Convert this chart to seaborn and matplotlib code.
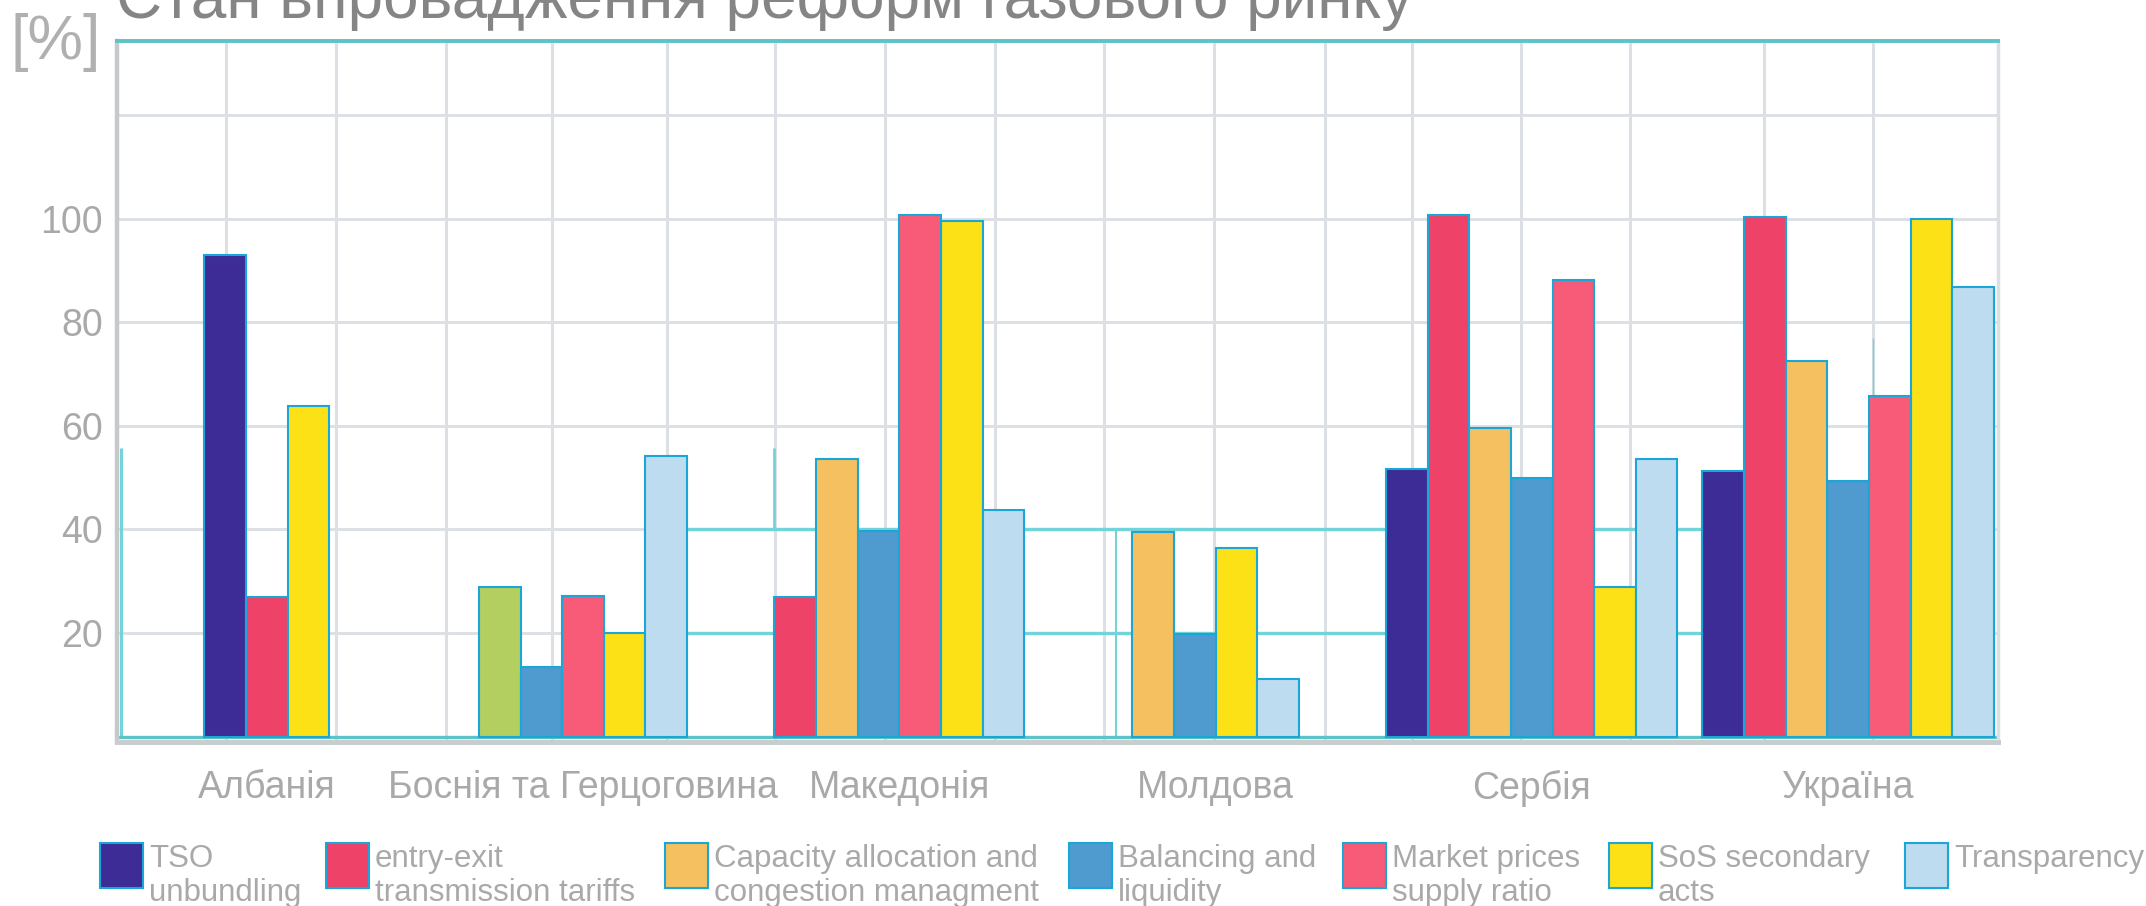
import pandas as pd
import matplotlib.pyplot as plt
import seaborn as sns
from matplotlib.patches import Rectangle

# Країни (групи стовпців)
countries = ["Албанія", "Боснія та Герцоговина", "Македонія", "Молдова", "Сербія", "Україна"]

# Стан реформ по напрямках, % (None = стовпця немає)
tso_unbundling = [92.9, None, None, None, 51.7, 51.2]
entry_exit = [26.9, None, 26.9, None, 100.8, 100.3]
capacity = [None, 28.8, 53.6, 39.6, 59.6, 72.6]
balancing = [None, 13.5, 39.8, 19.8, 49.9, 49.3]
market_prices = [None, 27.2, 100.8, None, 88.1, 65.7]
sos_acts = [63.9, 20.1, 99.6, 36.4, 28.8, 100.0]
transparency = [None, 54.1, 43.8, 11.1, 53.6, 86.8]

series_names = ["TSO\nunbundling", "entry-exit\ntransmission tariffs",
                "Capacity allocation and\ncongestion managment", "Balancing and\nliquidity",
                "Market prices\nsupply ratio", "SoS secondary\nacts", "Transparency"]
series_values = [tso_unbundling, entry_exit, capacity, balancing, market_prices, sos_acts, transparency]
series_colors = ["#3d2b96", "#ef4268", "#f4c060", "#4f9bcf", "#f75b77", "#fce116", "#bedcf0"]

# у Боснії стовпець capacity зафарбований зеленим
green_key = "capacity (БіГ)"
green_color = "#b3cf60"

# Розміщення груп (в ширинах стовпця)
side_pad = 3.6
group_step = 7.6

rows = []
centres = []
for i, country in enumerate(countries):
    present = [(k, vals[i]) for k, vals in enumerate(series_values) if vals[i] is not None]
    n = len(present)
    centre = side_pad + i * group_step
    centres.append(centre)
    for j, (k, v) in enumerate(present):
        key = series_names[k]
        if i == 1 and k == 2:
            key = green_key
        rows.append({"pos": centre + j - (n - 1) / 2, "value": v, "key": key, "country": country})
df = pd.DataFrame(rows)

palette = dict(zip(series_names, series_colors))
palette[green_key] = green_color

# Стиль
sns.set_theme(style="white")
plt.rcParams["font.family"] = ["Liberation Sans", "DejaVu Sans"]

grid_grey = "#dcdfe3"
cyan = "#5ec3c6"
edge = "#1ba6d8"
text_grey = "#a9a9a9"

fig = plt.figure(figsize=(21.46, 9.06), dpi=100)
ax = fig.add_axes([0.0545, 0.1812, 0.8765, 0.7735])

sns.barplot(data=df, x="pos", y="value", hue="key", palette=palette, native_scale=True,
            dodge=False, width=1.0, errorbar=None, saturation=1, edgecolor=edge,
            linewidth=1.5, legend=False, ax=ax, zorder=3)

ax.set_xlim(0, 2 * side_pad + group_step * (len(countries) - 1))
ax.set_ylim(-1.0, 134.3)

# Сітка
vgrid = [2.62, 5.26, 7.91, 10.46, 13.22, 15.82, 18.46, 21.11, 23.73, 26.37,
         29.02, 31.11, 33.73, 36.35, 39.57, 42.21]
ax.set_xticks(vgrid, minor=True)
ax.set_xticks(centres)
ax.set_xticklabels(countries, fontsize=27)
ax.set_yticks([20, 40, 60, 80, 100, 120])
ax.set_yticklabels(["20", "40", "60", "80", "100", ""], fontsize=27)
ax.set_axisbelow(True)
ax.grid(axis="y", which="major", color=grid_grey, linewidth=2.1)
ax.grid(axis="x", which="minor", color=grid_grey, linewidth=2.2)
ax.grid(axis="x", which="major", visible=False)
ax.tick_params(axis="both", which="both", length=0, colors=text_grey)
ax.tick_params(axis="x", pad=20)
ax.tick_params(axis="y", pad=10)
ax.set_xlabel("")
ax.set_ylabel("")

# Рамка
ax.spines["top"].set_color(cyan)
ax.spines["top"].set_linewidth(2.8)
ax.spines["left"].set_color("#c5c9cc")
ax.spines["left"].set_linewidth(3.2)
ax.spines["bottom"].set_color("#c8cdd0")
ax.spines["bottom"].set_linewidth(3.6)
ax.spines["right"].set_color(grid_grey)
ax.spines["right"].set_linewidth(2.5)

# Бірюзові лінії
ax.axhline(0, color=cyan, linewidth=2.4, zorder=2)
ax.hlines([20, 40], 13.2, 38.3, color="#72d3d8", linewidth=2.4, zorder=1)
ax.vlines([0.1], 0, 55.7, color="#72d3d8", linewidth=2.2, zorder=1)
ax.vlines([15.8], 40, 55.7, color="#72d3d8", linewidth=2.0, zorder=1)
ax.vlines([24.0], 0, 40, color="#72d3d8", linewidth=1.5, zorder=1)
ax.vlines([42.2], 63, 77, color="#72d3d8", linewidth=1.0, zorder=1)

# Заголовок і одиниці
fig.text(0.054, 1 - 18 / 906, "Стан впровадження реформ газового ринку",
         fontsize=46, color="#858585", ha="left", va="baseline")
fig.text(56 / 2146, 1 - 42 / 906, "[%]", fontsize=45, color="#b0b0b0", ha="center", va="center")

# Легенда
legend_x = [100, 326, 665, 1069, 1343, 1609, 1905]
for name, color, x in zip(series_names, series_colors, legend_x):
    fig.patches.append(Rectangle((x / 2146, 1 - 888 / 906), 43 / 2146, 45 / 906,
                                 transform=fig.transFigure, facecolor=color,
                                 edgecolor=edge, linewidth=1.5))
    fig.text((x + 49) / 2146, 1 - 844 / 906, name, fontsize=22.5, color=text_grey,
             ha="left", va="top", linespacing=1.16)

plt.savefig("out.png", dpi=100)
